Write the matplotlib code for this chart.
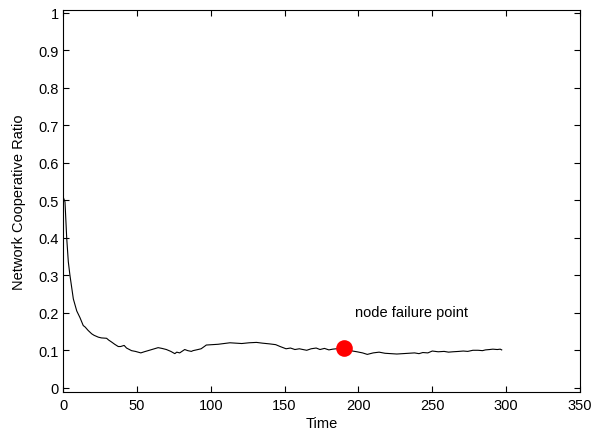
import matplotlib
matplotlib.use("Agg")
import matplotlib.pyplot as plt

plt.rcParams['font.family'] = ['Liberation Sans', 'DejaVu Sans']

# network cooperative ratio over time
time = [0, 1.35, 2.5, 3.6, 4.7, 7, 9.3, 11.5, 13.7, 15, 17, 19.4, 21, 23.9, 26,
        29.5, 31, 32.9, 35, 37.4, 39, 41.4, 43, 46.4, 49, 52.7, 55, 57.6, 61,
        64.4, 67, 70, 73, 75.7, 77, 79, 80.5, 82.4, 84.5, 86.9, 88, 91.4, 93.5,
        96, 97, 101, 105, 109, 113, 117, 121, 126, 131, 135, 140, 144, 147, 151,
        154, 157, 160, 162.4, 165, 168, 171.4, 174, 177, 180, 182.6, 185, 188,
        190.5, 193, 196, 199, 202.8, 206, 210, 214, 218, 222, 226, 230, 234, 238,
        241, 243.6, 247, 250, 254, 258, 261, 264, 268, 271, 274, 277.5, 281, 284,
        286, 288.8, 291, 294, 296, 297]
ratio = [0.51, 0.496, 0.40, 0.336, 0.30, 0.237, 0.205, 0.187, 0.166, 0.162,
         0.153, 0.144, 0.140, 0.135, 0.133, 0.132, 0.127, 0.122, 0.116, 0.110,
         0.110, 0.113, 0.106, 0.099, 0.097, 0.093, 0.096, 0.099, 0.103, 0.107,
         0.105, 0.102, 0.097, 0.091, 0.095, 0.093, 0.097, 0.102, 0.099, 0.097,
         0.099, 0.102, 0.104, 0.111, 0.114, 0.115, 0.116, 0.118, 0.120, 0.119,
         0.118, 0.120, 0.121, 0.119, 0.117, 0.115, 0.110, 0.104, 0.106, 0.102,
         0.104, 0.102, 0.100, 0.104, 0.106, 0.102, 0.105, 0.101, 0.103, 0.104,
         0.106, 0.106, 0.103, 0.098, 0.096, 0.093, 0.089, 0.093, 0.095, 0.092,
         0.091, 0.090, 0.091, 0.092, 0.093, 0.091, 0.094, 0.093, 0.098, 0.096,
         0.097, 0.095, 0.096, 0.097, 0.098, 0.097, 0.100, 0.100, 0.099, 0.101,
         0.102, 0.103, 0.102, 0.103, 0.101]

fail_time = 190.5
fail_ratio = 0.106

fig = plt.figure(figsize=(5.92, 4.31), dpi=100)
ax = fig.add_axes([63 / 592, 1 - 392.5 / 431, 517 / 592, 381.5 / 431])

ax.plot(time, ratio, color='black', linewidth=0.8)
ax.plot([fail_time], [fail_ratio], 'o', color='red', markersize=12, markeredgewidth=0)
ax.text(198, 0.203, 'node failure point', fontsize=10.5, va='center', ha='left')

ax.set_xlim(0, 350)
ax.set_ylim(-0.01, 1.008)
ax.set_xticks(range(0, 351, 50))
ax.set_yticks([i / 10 for i in range(11)])
ax.set_yticklabels(['0', '0.1', '0.2', '0.3', '0.4', '0.5', '0.6', '0.7', '0.8', '0.9', '1'])
ax.tick_params(direction='in', top=True, right=True, length=4, width=0.8, labelsize=10.5, pad=3)
ax.tick_params(axis='x', pad=4.5)
for s in ax.spines.values():
    s.set_linewidth(0.8)

ax.set_xlabel('Time', fontsize=10.5, labelpad=3)
ax.set_ylabel('Network Cooperative Ratio', fontsize=10.5, labelpad=9)

fig.savefig('out.png', dpi=100)
